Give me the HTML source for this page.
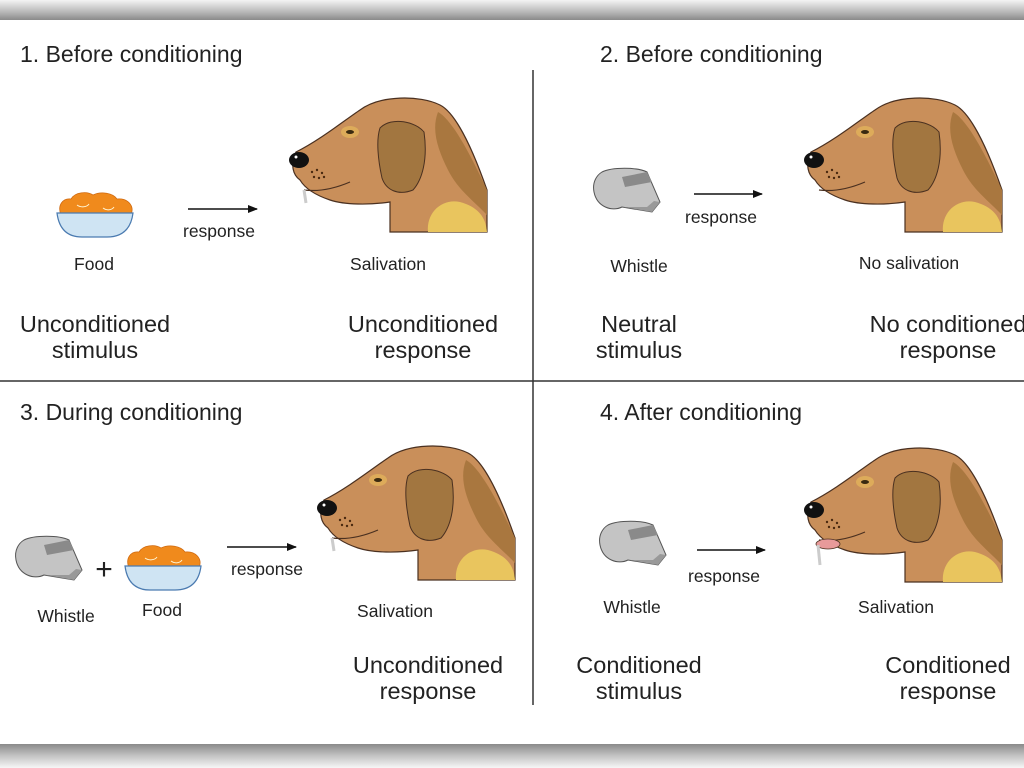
<!DOCTYPE html>
<html><head><meta charset="utf-8"><style>
html,body{margin:0;padding:0;background:#fff;width:1024px;height:768px;overflow:hidden}
svg{display:block}
text{font-family:"Liberation Sans",sans-serif;fill:#222}
.h{font-size:23px}.b{font-size:23.5px}.s{font-size:17.5px}
</style></head><body>
<svg width="1024" height="768" viewBox="0 0 1024 768">
<defs>
<linearGradient id="tb" x1="0" y1="0" x2="0" y2="1">
<stop offset="0" stop-color="#f4f4f4"/><stop offset="0.6" stop-color="#b8b8b8"/><stop offset="1" stop-color="#8a8a8a"/></linearGradient>
<linearGradient id="bb" x1="0" y1="0" x2="0" y2="1">
<stop offset="0" stop-color="#8a8a8a"/><stop offset="0.5" stop-color="#c4c4c4"/><stop offset="1" stop-color="#f6f6f6"/></linearGradient>
<g id="dog">
<path d="M8,52 C32,40 57,20 72,10 C92,-5 132,-5 152,5 C172,15 192,70 199,90 L199,132 L102,132 L102,102 C82,105 57,105 42,100 C30,96 18,90 12,80 C5,75 2,65 8,52Z" fill="#c98f5a" stroke="#4a3020" stroke-width="1.2"/>
<path d="M150,12 C165,20 185,60 199,90 L199,115 C185,100 170,90 160,70 C150,50 143,30 150,12Z" fill="#a9773f"/>
<path d="M140,132 C138,110 158,95 178,104 C193,110 198,120 199,132Z" fill="#e9c55e"/>
<path d="M92,28 C104,16 128,22 136,32 C140,60 134,80 125,90 C110,96 98,90 94,78 C90,60 88,40 92,28Z" fill="#a27640" stroke="#4a3020" stroke-width="1"/>
<ellipse cx="62" cy="32" rx="9" ry="6" fill="#f1c85a" opacity="0.5"/>
<ellipse cx="62" cy="32" rx="4" ry="2" fill="#3a2a10"/>
<ellipse cx="11" cy="60" rx="10" ry="8" fill="#111"/>
<circle cx="8" cy="57" r="1.5" fill="#fff"/>
<g fill="#4a2a10"><circle cx="24" cy="72" r="1.2"/><circle cx="29" cy="70" r="1.2"/><circle cx="34" cy="73" r="1.2"/><circle cx="26" cy="77" r="1.2"/><circle cx="31" cy="78" r="1.2"/><circle cx="36" cy="77" r="1.2"/></g>
<path d="M16,90 C32,92 48,88 62,82" fill="none" stroke="#4a3020" stroke-width="1.2"/>
</g>
<g id="whistle">
<path d="M10,5 C20,0 45,0 55,5 L68,35 L60,45 L30,40 C20,45 5,40 2,25 C0,15 5,8 10,5Z" fill="#c4c4c4" stroke="#555" stroke-width="1"/>
<path d="M30,10 L55,5 L60,15 L33,20Z" fill="#8a8a8a"/>
<path d="M32,40 L60,45 L68,35 L62,34 L55,40Z" fill="#999"/>
</g>
<g id="food">
<path d="M4,22 C0,12 6,5 14,6 C18,-1 30,-2 36,2 C44,-2 56,0 60,6 C70,5 78,12 74,22Z" fill="#f08a1c" stroke="#d06a10" stroke-width="0.8"/>
<path d="M20,12 C24,15 30,14 32,11 M46,15 C50,18 55,17 57,14" fill="none" stroke="#fff3d0" stroke-width="1"/>
<path d="M0,20 L76,20 C74,36 65,44 50,44 L25,44 C10,44 2,36 0,20Z" fill="#cfe4f3" stroke="#4a7ab0" stroke-width="1.2"/>
</g>
<marker id="ar" markerWidth="10" markerHeight="8" refX="9" refY="4" orient="auto" markerUnits="userSpaceOnUse"><path d="M0,0 L10,4 L0,8Z" fill="#111"/></marker>
</defs>
<rect x="0" y="0" width="1024" height="20" fill="url(#tb)"/>
<rect x="0" y="744" width="1024" height="24" fill="url(#bb)"/>
<line x1="533" y1="70" x2="533" y2="705" stroke="#333" stroke-width="1.5"/>
<line x1="0" y1="381" x2="1024" y2="381" stroke="#333" stroke-width="1.5"/>

<!-- Panel 1 -->
<text class="h" x="20" y="62">1.  Before conditioning</text>
<use href="#food" x="57" y="193"/>
<line x1="188" y1="209" x2="257" y2="209" stroke="#111" stroke-width="1.5" marker-end="url(#ar)"/>
<text class="s" x="219" y="237" text-anchor="middle">response</text>
<use href="#dog" x="288" y="100"/>
<path d="M304,190 L306,203" stroke="#ccc" stroke-width="3"/>
<text class="s" x="94" y="270" text-anchor="middle">Food</text>
<text class="s" x="388" y="270" text-anchor="middle">Salivation</text>
<text class="b" x="95" y="332" text-anchor="middle">Unconditioned</text>
<text class="b" x="95" y="358" text-anchor="middle">stimulus</text>
<text class="b" x="423" y="332" text-anchor="middle">Unconditioned</text>
<text class="b" x="423" y="358" text-anchor="middle">response</text>

<!-- Panel 2 -->
<text class="h" x="600" y="62">2.  Before conditioning</text>
<use href="#whistle" x="592" y="167"/>
<line x1="694" y1="194" x2="762" y2="194" stroke="#111" stroke-width="1.5" marker-end="url(#ar)"/>
<text class="s" x="721" y="223" text-anchor="middle">response</text>
<use href="#dog" x="803" y="100"/>
<text class="s" x="639" y="272" text-anchor="middle">Whistle</text>
<text class="s" x="909" y="269" text-anchor="middle">No salivation</text>
<text class="b" x="639" y="332" text-anchor="middle">Neutral</text>
<text class="b" x="639" y="358" text-anchor="middle">stimulus</text>
<text class="b" x="948" y="332" text-anchor="middle">No conditioned</text>
<text class="b" x="948" y="358" text-anchor="middle">response</text>

<!-- Panel 3 -->
<text class="h" x="20" y="420">3.  During conditioning</text>
<use href="#whistle" x="14" y="535"/>
<text x="104" y="579" text-anchor="middle" style="font-size:30px">+</text>
<use href="#food" x="125" y="546"/>
<line x1="227" y1="547" x2="296" y2="547" stroke="#111" stroke-width="1.5" marker-end="url(#ar)"/>
<text class="s" x="267" y="575" text-anchor="middle">response</text>
<use href="#dog" x="316" y="448"/>
<path d="M332,538 L334,551" stroke="#ccc" stroke-width="3"/>
<text class="s" x="66" y="622" text-anchor="middle">Whistle</text>
<text class="s" x="162" y="616" text-anchor="middle">Food</text>
<text class="s" x="395" y="617" text-anchor="middle">Salivation</text>
<text class="b" x="428" y="673" text-anchor="middle">Unconditioned</text>
<text class="b" x="428" y="699" text-anchor="middle">response</text>

<!-- Panel 4 -->
<text class="h" x="600" y="420">4.  After conditioning</text>
<use href="#whistle" x="598" y="520"/>
<line x1="697" y1="550" x2="765" y2="550" stroke="#111" stroke-width="1.5" marker-end="url(#ar)"/>
<text class="s" x="724" y="582" text-anchor="middle">response</text>
<use href="#dog" x="803" y="450"/>
<ellipse cx="828" cy="544" rx="12" ry="5" fill="#e89a9a" stroke="#4a3020" stroke-width="0.8"/>
<path d="M818,545 L820,565" stroke="#ccc" stroke-width="3"/>
<text class="s" x="632" y="613" text-anchor="middle">Whistle</text>
<text class="s" x="896" y="613" text-anchor="middle">Salivation</text>
<text class="b" x="639" y="673" text-anchor="middle">Conditioned</text>
<text class="b" x="639" y="699" text-anchor="middle">stimulus</text>
<text class="b" x="948" y="673" text-anchor="middle">Conditioned</text>
<text class="b" x="948" y="699" text-anchor="middle">response</text>
</svg>
</body></html>
